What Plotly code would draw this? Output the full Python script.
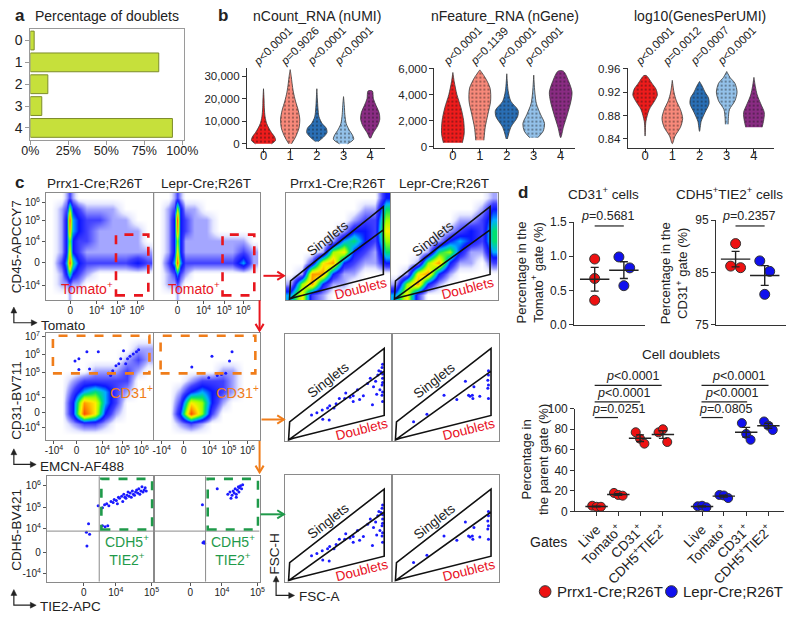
import math
import statistics
import plotly.graph_objects as go

W, H = 800, 622
FONT = "Liberation Sans, Arial, sans-serif"
INK = "#222222"

# ---------------- a: percentage of doublets per cluster ----------------
clusters = [0, 1, 2, 3, 4]
doublet_pct = [2.5, 84.5, 11.5, 7.5, 93.5]

# ---------------- b: violin outlines ----------------
# per cluster: value levels and half width (cluster units) at each level
ncount_lv = [
    [0, 1500, 3000, 5000, 7000, 9000, 12000, 16000, 20000, 24500],
    [0, 3000, 7000, 11000, 15000, 19000, 23000, 27000, 30000, 33000],
    [1000, 3000, 5000, 7000, 9000, 12000, 16000, 20000, 24500],
    [0, 2000, 4000, 6000, 9000, 13000, 17000, 21000],
    [2500, 5000, 8000, 11000, 14000, 17000, 20000, 23500],
]
ncount_hw = [
    [0.3, 0.45, 0.42, 0.3, 0.2, 0.12, 0.06, 0.03, 0.02, 0],
    [0.05, 0.2, 0.33, 0.36, 0.3, 0.2, 0.12, 0.07, 0.04, 0],
    [0.05, 0.25, 0.38, 0.35, 0.2, 0.08, 0.04, 0.02, 0],
    [0.15, 0.38, 0.33, 0.22, 0.1, 0.05, 0.03, 0],
    [0.02, 0.12, 0.28, 0.36, 0.33, 0.22, 0.12, 0.08],
]
nfeature_lv = [
    [300, 1000, 2000, 3000, 4000, 5000, 5700],
    [500, 1500, 2500, 3500, 4500, 5300, 5900],
    [600, 1500, 2300, 2800, 3500, 4300, 5600],
    [700, 1200, 1800, 2500, 3300, 4200, 5500],
    [700, 1500, 2500, 3500, 4200, 5000, 5800],
]
nfeature_hw = [
    [0.35, 0.42, 0.4, 0.3, 0.15, 0.05, 0],
    [0.15, 0.2, 0.3, 0.4, 0.38, 0.2, 0],
    [0.02, 0.15, 0.4, 0.42, 0.15, 0.05, 0],
    [0.15, 0.35, 0.4, 0.25, 0.1, 0.04, 0],
    [0, 0.1, 0.25, 0.38, 0.42, 0.3, 0.1],
]
gpu_lv = [
    [0.845, 0.87, 0.89, 0.905, 0.915, 0.925, 0.935, 0.948],
    [0.832, 0.845, 0.86, 0.875, 0.89, 0.905, 0.92, 0.94],
    [0.853, 0.87, 0.885, 0.9, 0.91, 0.92, 0.93, 0.938],
    [0.865, 0.875, 0.89, 0.905, 0.92, 0.935, 0.945, 0.955],
    [0.86, 0.87, 0.885, 0.9, 0.915, 0.93, 0.945],
]
gpu_hw = [
    [0, 0.03, 0.15, 0.35, 0.45, 0.4, 0.25, 0.05],
    [0, 0.1, 0.3, 0.38, 0.3, 0.15, 0.06, 0],
    [0, 0.06, 0.2, 0.35, 0.33, 0.2, 0.1, 0],
    [0.05, 0.06, 0.1, 0.3, 0.38, 0.3, 0.12, 0],
    [0.3, 0.35, 0.38, 0.25, 0.12, 0.05, 0],
]
ncount_p = ["p&lt;0.0001", "p=0.9026", "p&lt;0.0001", "p&lt;0.0001"]
nfeature_p = ["p&lt;0.0001", "p=0.1139", "p&lt;0.0001", "p&lt;0.0001"]
gpu_p = ["p&lt;0.0001", "p=0.0012", "p=0.0007", "p&lt;0.0001"]
cluster_colors = ["#ee1c1c", "#f7897a", "#2a6fb5", "#93c1e9", "#8a2c83"]

# ---------------- c: flow cytometry (axis units 0-100 on the display scale) ----------------
grid = [5, 15, 25, 35, 45, 55, 65, 75, 85, 95]
grid_cd45_x = [5, 14, 19, 22, 25, 30, 38, 50, 62, 74, 85, 94]
# density rows go from bottom to top
cd45_prrx1 = [
    [0, 0, 0, 1, 0, 0, 0, 0, 0, 0, 0, 0],
    [0, 1, 1, 2, 1, 1, 0, 0, 0, 0, 0, 0],
    [0, 1, 3, 5, 3, 2, 1, 0, 0, 0, 0, 0],
    [0, 2, 4, 9, 5, 3, 2, 2, 2, 2, 3, 2],
    [0, 1, 3, 7, 3, 2, 1, 1, 1, 1, 1, 1],
    [0, 1, 3, 6, 3, 2, 2, 1, 1, 1, 1, 0],
    [0, 1, 3, 8, 4, 3, 2, 1, 1, 1, 1, 0],
    [0, 1, 3, 9, 4, 3, 2, 2, 1, 1, 0, 0],
    [0, 1, 2, 6, 3, 2, 1, 1, 1, 0, 0, 0],
    [0, 0, 1, 2, 1, 0, 0, 0, 0, 0, 0, 0],
]
cd45_lepr = [
    [0, 0, 0, 1, 0, 0, 0, 0, 0, 0, 0, 0],
    [0, 1, 1, 2, 1, 0, 0, 0, 0, 0, 0, 0],
    [0, 1, 2, 4, 2, 1, 0, 0, 0, 0, 0, 0],
    [0, 2, 4, 9, 4, 2, 2, 2, 2, 2, 4, 1],
    [0, 1, 3, 7, 3, 1, 1, 1, 1, 1, 2, 1],
    [0, 1, 3, 6, 3, 1, 1, 1, 1, 1, 1, 0],
    [0, 1, 3, 8, 3, 2, 1, 1, 0, 0, 0, 0],
    [0, 1, 3, 9, 3, 2, 1, 1, 0, 0, 0, 0],
    [0, 1, 2, 6, 3, 1, 1, 0, 0, 0, 0, 0],
    [0, 0, 1, 2, 1, 0, 0, 0, 0, 0, 0, 0],
]
fsc_prrx1 = [
    [4, 7, 2, 1, 0, 0, 0, 0, 0, 0],
    [1, 6, 8, 3, 1, 1, 0, 0, 0, 0],
    [0, 1, 8, 8, 3, 1, 1, 0, 0, 0],
    [0, 0, 2, 7, 8, 3, 2, 1, 1, 3],
    [0, 0, 0, 1, 6, 7, 3, 2, 1, 5],
    [0, 0, 0, 0, 1, 4, 5, 3, 2, 6],
    [0, 0, 0, 0, 0, 1, 3, 3, 2, 7],
    [0, 0, 0, 0, 0, 0, 1, 2, 2, 6],
    [0, 0, 0, 0, 0, 0, 0, 1, 1, 5],
    [0, 0, 0, 0, 0, 0, 0, 0, 0, 3],
]
fsc_lepr = [
    [4, 7, 2, 0, 0, 0, 0, 0, 0, 0],
    [1, 6, 8, 3, 1, 0, 0, 0, 0, 0],
    [0, 1, 7, 8, 3, 1, 0, 0, 0, 0],
    [0, 0, 1, 6, 8, 3, 1, 1, 0, 2],
    [0, 0, 0, 1, 5, 6, 3, 1, 1, 4],
    [0, 0, 0, 0, 1, 3, 4, 3, 2, 5],
    [0, 0, 0, 0, 0, 1, 2, 3, 2, 5],
    [0, 0, 0, 0, 0, 0, 1, 1, 2, 4],
    [0, 0, 0, 0, 0, 0, 0, 0, 1, 3],
    [0, 0, 0, 0, 0, 0, 0, 0, 0, 1],
]
cd31_prrx1 = [
    [0, 0, 0, 0, 0, 0, 0, 0, 0, 0],
    [0, 0, 1, 2, 2, 1, 0, 0, 0, 0],
    [0, 0, 3, 9, 7, 3, 1, 0, 0, 0],
    [0, 0, 3, 8, 7, 4, 2, 0, 0, 0],
    [0, 0, 2, 4, 5, 4, 2, 1, 0, 0],
    [0, 0, 1, 2, 2, 2, 2, 2, 0, 0],
    [0, 0, 0, 0, 1, 1, 1, 2, 1, 0],
    [0, 0, 0, 0, 0, 0, 0, 1, 2, 1],
    [0, 0, 0, 0, 0, 0, 0, 0, 1, 1],
    [0, 0, 0, 0, 0, 0, 0, 0, 0, 0],
]
cd31_lepr = [
    [0, 0, 0, 0, 0, 0, 0, 0, 0, 0],
    [0, 0, 1, 2, 1, 0, 0, 0, 0, 0],
    [0, 0, 3, 9, 6, 2, 0, 0, 0, 0],
    [0, 0, 2, 7, 6, 3, 1, 0, 0, 0],
    [0, 0, 1, 3, 4, 3, 2, 1, 0, 0],
    [0, 0, 0, 1, 2, 2, 2, 1, 0, 0],
    [0, 0, 0, 0, 0, 0, 1, 1, 0, 0],
    [0, 0, 0, 0, 0, 0, 0, 0, 0, 0],
    [0, 0, 0, 0, 0, 0, 0, 0, 0, 0],
    [0, 0, 0, 0, 0, 0, 0, 0, 0, 0],
]
# sparse events
cd31_gate_prrx1_x = [27, 30.6, 38, 48.6, 30.6, 40.5, 62, 72, 69.4, 75.7, 78, 81, 65, 74, 67.6, 58, 60, 84, 86]
cd31_gate_prrx1_y = [73.6, 75.5, 82, 82, 65.5, 66, 64.5, 83, 75.5, 75.5, 78, 80, 69, 71, 71, 62, 60, 82, 84]
cd31_gate_lepr_x = [36, 55, 71.6, 74, 60, 64, 68, 52]
cd31_gate_lepr_y = [68, 78, 73.6, 82, 60, 61, 62, 58]
ec_prrx1_x = [48, 39, 40, 37, 37.5, 52, 54.5, 57, 52, 54, 56, 58, 60, 62, 63, 65, 66, 67, 68, 70, 71,
              72, 73, 74, 75, 76, 77, 78, 79, 80, 81, 82, 83, 84, 85, 86, 87, 88, 89, 90, 91, 92, 93]
ec_prrx1_y = [72, 55, 45, 47, 34, 53, 52, 53, 70, 73, 74, 72, 76, 75, 78, 77, 74, 80, 79, 81, 76,
              83, 80, 79, 82, 85, 81, 84, 80, 86, 83, 82, 85, 87, 84, 88, 83, 86, 90, 85, 87, 89, 86]
ec_lepr_x = [46, 46.5, 47.5, 48, 60, 70, 72, 74, 75, 76, 77, 78, 79, 80, 80.5, 81, 82, 83, 84, 78, 73]
ec_lepr_y = [73, 37, 38, 36.5, 88, 83, 85, 82, 86, 84, 88, 83, 87, 90, 85, 89, 91, 88, 92, 80, 79]
fsc_sparse_prrx1_x = [25, 30, 35, 40, 42, 48, 51, 57, 61, 64, 68, 70, 73.5, 77.5, 80, 83, 82, 85, 87, 89, 90,
                      91, 91, 91, 91.5, 91.5, 35.5, 41.5, 46, 56, 64, 91.5, 91.5, 91.5, 91.5, 88, 86]
fsc_sparse_prrx1_y = [24.5, 26.6, 29, 31, 33, 35, 40, 45, 41, 42.5, 48, 39, 42.5, 54, 59, 51, 34, 56, 62, 48, 65,
                      69, 43, 52.6, 59, 37, 20.5, 19.6, 31, 40, 37, 46, 55, 63, 72, 66, 44]
fsc_sparse_lepr_x = [20.5, 33, 49, 61, 69, 72, 73.4, 75.5, 77, 82.5, 90, 90, 90.6, 90.6, 90.6, 90.6, 76]
fsc_sparse_lepr_y = [18, 25, 43, 39, 56, 43, 41.9, 43, 51, 42, 49.5, 57, 62, 52.6, 66, 40, 40]

# ---------------- d: gate percentages (n = 3 mice) ----------------
cd31_prrx1_pct = [0.96, 0.675, 0.357]
cd31_lepr_pct = [0.99, 0.83, 0.57]
ec_prrx1_pct = [90.5, 86.2, 85.9]
ec_lepr_pct = [87.2, 85.2, 80.8]
gates = ["Live", "Tomato<sup>+</sup>", "CD31<sup>+</sup>", "CDH5<sup>+</sup>TIE2<sup>+</sup>"]
doublets_prrx1 = [[5.5, 4.5, 4.5], [18, 16, 15.3], [77.1, 70.8, 66], [77, 80, 67.6]]
doublets_lepr = [[5, 5.5, 4], [16, 15.5, 13], [86, 75.5, 69.8], [87.6, 83.5, 79.3]]
strains = ["Prrx1-Cre;R26T", "Lepr-Cre;R26T"]

RED, BLUE = "#ee1111", "#1010ee"
JET = [[0.0, "#ffffff"], [0.05, "#e6e8ff"], [0.1, "#a4a6ff"], [0.2, "#4040ff"], [0.3, "#0a14ff"],
       [0.4, "#00b0ff"], [0.5, "#00e070"], [0.6, "#a0ff00"], [0.7, "#ffee00"], [0.82, "#ff8a00"],
       [1.0, "#ff0000"]]

fig = go.Figure()
lay, shapes, annos = {}, [], []


def X(px):
    return px / W


def Y(py):
    return 1 - py / H


def make_axes(i, x0, x1, y0, y1, xa, ya):
    s = "" if i == 1 else str(i)
    base = dict(showgrid=False, zeroline=False, fixedrange=True)
    lay["xaxis" + s] = dict(base, domain=[X(x0), X(x1)], anchor="y" + s, **xa)
    lay["yaxis" + s] = dict(base, domain=[Y(y1), Y(y0)], anchor="x" + s, **ya)
    return "x" + s, "y" + s


def text(px, py, s, size=13, color=INK, angle=0, xanchor="center", yanchor="middle"):
    annos.append(dict(x=X(px), y=Y(py), xref="paper", yref="paper", text=s, showarrow=False,
                      font=dict(family=FONT, size=size, color=color), textangle=angle,
                      xanchor=xanchor, yanchor=yanchor))


def pline(points, color, width=1.2):
    path = "M" + " L".join(f"{X(a):.5f},{Y(b):.5f}" for a, b in points)
    shapes.append(dict(type="path", xref="paper", yref="paper", path=path,
                       line=dict(color=color, width=width)))


def arrow(x0, y0, x1, y1, color):
    ang = math.atan2(y1 - y0, x1 - x0)
    h1 = (x1 - 8 * math.cos(ang - 0.55), y1 - 8 * math.sin(ang - 0.55))
    h2 = (x1 - 8 * math.cos(ang + 0.55), y1 - 8 * math.sin(ang + 0.55))
    pline([(x0, y0), (x1, y1)], color, 2)
    pline([h1, (x1, y1), h2], color, 2)


def l_axis(cx, cy, top, right):
    pline([(cx, top + 4), (cx, cy), (right - 4, cy)], INK, 1.2)
    for tri in ([(cx - 3, top + 6), (cx, top), (cx + 3, top + 6)],
                [(right - 6, cy - 3), (right, cy), (right - 6, cy + 3)]):
        path = "M" + " L".join(f"{X(a):.5f},{Y(b):.5f}" for a, b in tri) + " Z"
        shapes.append(dict(type="path", xref="paper", yref="paper", path=path,
                           fillcolor=INK, line=dict(color=INK, width=0.5)))


# ================= a =================
frame_a = dict(showline=True, mirror=True, linecolor="#9a9a9a", ticks="outside", ticklen=4, tickcolor="#9a9a9a")
xa, ya = make_axes(1, 22, 180, 22, 136,
                   dict(frame_a, range=[0, 101], tickvals=[0, 25, 50, 75, 100], ticklabelstandoff=-5,
                        ticktext=["0%", "25%", "50%", "75%", "100%"], tickfont=dict(size=12.5)),
                   dict(frame_a, range=[4.55, -0.55], tickvals=clusters, tickfont=dict(size=14)))
fig.add_trace(go.Bar(x=doublet_pct, y=clusters, orientation="h", width=0.86,
                     marker=dict(color="#c6e03b", line=dict(color="#7d8c2a", width=1)),
                     xaxis=xa, yaxis=ya, showlegend=False, hoverinfo="skip"))
text(4, 9, "<b>a</b>", 17, xanchor="left")
text(101, 9, "Percentage of doublets", 14)

# ================= b =================
text(213, 9, "<b>b</b>", 17, xanchor="left")
vio = [
    (2, 245, 387, [-0.62, 4.55], [-1740, 33900], [0, 10000, 20000, 30000], ",", ncount_lv, ncount_hw, ncount_p,
     "nCount_RNA (nUMI)", 317),
    (3, 438, 583, [-0.685, 4.54], [-75, 6075], [0, 2000, 4000, 6000], ",", nfeature_lv, nfeature_hw, nfeature_p,
     "nFeature_RNA (nGene)", 511),
    (4, 637, 788, [-0.64, 4.75], [0.825, 0.9617], [0.84, 0.88, 0.92, 0.96], ".2f", gpu_lv, gpu_hw, gpu_p,
     "log10(GenesPerUMI)", 711),
]
ax_b = dict(showline=True, linecolor="#333", linewidth=1, ticks="outside", ticklen=4, tickcolor="#333")
for i, x0, x1, xr, yr, yt, fmt, lv, hw, pv, title, tcx in vio:
    xa, ya = make_axes(i, x0, x1, 62, 144,
                       dict(ax_b, range=xr, tickvals=clusters, tickfont=dict(size=13), ticklabelstandoff=-8),
                       dict(ax_b, range=yr, tickvals=yt, tickformat=fmt, tickfont=dict(size=11.5)))
    for k in clusters:
        ys, ws = lv[k], hw[k]
        xs = [k + w for w in ws] + [k - w for w in reversed(ws)]
        fig.add_trace(go.Scatter(
            x=xs, y=ys + ys[::-1], mode="lines", fill="toself",
            line=dict(color="#3a3a3a", width=0.8, shape="spline", smoothing=0.8),
            fillcolor=cluster_colors[k],
            fillpattern=dict(shape=".", fgcolor="#111111", bgcolor=cluster_colors[k], size=4, solidity=0.2),
            xaxis=xa, yaxis=ya, showlegend=False, hoverinfo="skip"))
    for k, p in enumerate(pv):
        annos.append(dict(x=k, y=Y(40), xref=xa, yref="paper", xshift=9.5, text=p.replace("p", "<i>p</i>", 1),
                          showarrow=False, textangle=-45, xanchor="center", yanchor="middle",
                          font=dict(family=FONT, size=11.5, color=INK)))
    text(tcx, 9, title, 14)

# ================= c =================
text(4, 180, "<b>c</b>", 17, xanchor="left")
frame_c = dict(showline=True, mirror=True, linecolor="#8a8a8a", linewidth=1, range=[0, 100])
tick_c = dict(ticks="outside", ticklen=3, tickcolor="#555", tickfont=dict(size=10))
sup = lambda e: f"10<sup>{e}</sup>"
no_ticks = dict(showticklabels=False, ticks="")


def flow_axes(i, x0, x1, y0, y1, xt=None, yt=None):
    xa = dict(frame_c, **(dict(tick_c, tickvals=xt[0], ticktext=xt[1], ticklabelstandoff=-2) if xt else no_ticks))
    ya = dict(frame_c, **(dict(tick_c, tickvals=yt[0], ticktext=yt[1]) if yt else no_ticks))
    return make_axes(i, x0, x1, y0, y1, xa, ya)


def density(z, ax, xs=grid):
    fig.add_trace(go.Heatmap(z=z, x=xs, y=grid, zmin=0, zmax=10, zsmooth="best", colorscale=JET,
                             showscale=False, hoverinfo="skip", xaxis=ax[0], yaxis=ax[1]))


def dots(xs, ys, ax, size=3):
    fig.add_trace(go.Scatter(x=xs, y=ys, mode="markers", marker=dict(size=size, color="#1a1aff"),
                             xaxis=ax[0], yaxis=ax[1], showlegend=False, hoverinfo="skip"))


def gate_rect(ax, x0, x1, y0, y1, color):
    shapes.append(dict(type="rect", xref=ax[0], yref=ax[1], x0=x0, x1=x1, y0=y0, y1=y1,
                       line=dict(color=color, width=2.6, dash="dash")))


def label(ax, x, y, s, color, size=13.5, angle=0):
    annos.append(dict(x=x, y=y, xref=ax[0], yref=ax[1], text=s, showarrow=False, textangle=angle,
                      font=dict(family=FONT, size=size, color=color)))


def singlet_gate(ax):
    shapes.append(dict(type="path", xref=ax[0], yref=ax[1],
                       path="M3.5,1 L4.5,18 L93,87 L93,24 L8,2.5 Z M3.5,1 L93,65.5",
                       line=dict(color="#111", width=1.6)))
    label(ax, 40, 57, "Singlets", "#222", 13.5, -38)
    label(ax, 72, 11, "Doublets", "#e8101e", 13.5, -14)


for cx in (88, 338):
    text(cx, 181, strains[0], 13.5)
for cx in (203, 448):
    text(cx, 181, strains[1], 13.5)

# row 1
t1x = ([22.5, 47, 66.5, 84.5], ["0", sup(4), sup(5), sup(6)])
t1y = ([14, 35, 55, 74, 91], ["-" + sup(4), "0", sup(4), sup(5), sup(6)])
a5 = flow_axes(5, 38, 149, 190, 300, t1x, t1y)
a6 = flow_axes(6, 149, 258, 190, 300, t1x)
density(cd45_prrx1, a5, grid_cd45_x)
density(cd45_lepr, a6, grid_cd45_x)
for ax in (a5, a6):
    gate_rect(ax, 65, 95, 4.5, 61, "#e8161e")
    label(ax, 38, 11, "Tomato<sup>+</sup>", "#e8161e", 14)
a7 = flow_axes(7, 285, 393, 190, 300)
a8 = flow_axes(8, 393, 503, 190, 300)
density(fsc_prrx1, a7)
density(fsc_lepr, a8)

# row 2
t2x = ([7.5, 28.5, 52.5, 71, 88.5], ["-" + sup(4), "0", sup(4), sup(5), sup(6)])
t2y = ([12, 25.5, 40, 63, 80, 96], ["-" + sup(4), "0", sup(4), sup(5), sup(6), sup(7)])
a9 = flow_axes(9, 38, 149, 333, 443, t2x, t2y)
a10 = flow_axes(10, 149, 258, 333, 443, t2x)
density(cd31_prrx1, a9)
density(cd31_lepr, a10)
dots(cd31_gate_prrx1_x, cd31_gate_prrx1_y, a9)
dots(cd31_gate_lepr_x, cd31_gate_lepr_y, a10)
for ax in (a9, a10):
    gate_rect(ax, 6.5, 96, 62, 97, "#f07d1a")
    label(ax, 79, 45, "CD31<sup>+</sup>", "#f07d1a", 14.5)
a11 = flow_axes(11, 284, 394, 335, 444)
a12 = flow_axes(12, 394, 504, 335, 444)

# row 3
t3x = ([34.5, 64.5, 98], ["0", sup(4), sup(5)])
t3y = ([8, 28, 50, 70, 91], ["-" + sup(4), "0", sup(4), sup(5), sup(6)])
a13 = flow_axes(13, 39, 149, 480, 588, t3x, t3y)
a14 = flow_axes(14, 149, 258, 480, 588, t3x)
dots(ec_prrx1_x, ec_prrx1_y, a13)
dots(ec_lepr_x, ec_lepr_y, a14)
for ax in (a13, a14):
    shapes.append(dict(type="line", xref=ax[0], yref=ax[1], x0=49, x1=49, y0=0, y1=100,
                       line=dict(color="#8a8a8a", width=1)))
    shapes.append(dict(type="line", xref=ax[0], yref=ax[1], x0=0, x1=100, y0=48, y1=48,
                       line=dict(color="#8a8a8a", width=1)))
    gate_rect(ax, 51, 98.5, 49.5, 97.5, "#1f9a4a")
    label(ax, 75, 30, "CDH5<sup>+</sup><br>TIE2<sup>+</sup>", "#1f9a4a", 14)
a15 = flow_axes(15, 284, 394, 479, 588)
a16 = flow_axes(16, 394, 504, 479, 588)
for ax in (a11, a15):
    dots(fsc_sparse_prrx1_x, fsc_sparse_prrx1_y, ax)
for ax in (a12, a16):
    dots(fsc_sparse_lepr_x, fsc_sparse_lepr_y, ax)
for ax in (a7, a8, a11, a12, a15, a16):
    singlet_gate(ax)

# axis titles and arrows of panel c
text(8, 245, "CD45-APCCY7", 13.5, angle=-90)
text(31, 326, "Tomato", 13.5, xanchor="left")
text(8, 402, "CD31-BV711", 13.5, angle=-90)
text(30, 470, "EMCN-AF488", 13.5, xanchor="left")
text(8, 535, "CDH5-BV421", 13.5, angle=-90)
text(30, 613, "TIE2-APC", 13.5, xanchor="left")
text(273, 560, "FSC-H", 13.5, angle=-90)
text(297, 603, "FSC-A", 13.5, xanchor="left")
l_axis(5, 323, 307, 29)
l_axis(5, 468, 452, 28)
l_axis(5, 612, 596, 28)
l_axis(275, 602, 582, 294)
arrow(262, 275, 283, 275, "#e8161e")
arrow(258, 300, 258, 331, "#e8161e")
arrow(260, 422, 283, 422, "#f07d1a")
arrow(258, 444, 258, 476, "#f07d1a")
arrow(259, 519, 283, 519, "#1f9a4a")

# ================= d =================
text(522, 190, "<b>d</b>", 17, xanchor="left")
ax_d = dict(showline=True, linecolor="#333", linewidth=1.2, ticks="outside", ticklen=4, tickcolor="#333",
            tickfont=dict(size=12))
flat_x = dict(showline=True, linecolor="#333", linewidth=1.2, showticklabels=False, ticks="")


def mean_sem(v):
    return sum(v) / len(v), statistics.stdev(v) / math.sqrt(len(v))


def group(ax, pos, vals, color, offs, size=10, bar=21):
    fig.add_trace(go.Scatter(x=[pos + o for o in offs], y=vals, mode="markers",
                             showlegend=False, hoverinfo="skip",
                             marker=dict(size=size, color=color, line=dict(color="#333", width=1)),
                             xaxis=ax[0], yaxis=ax[1]))
    m, s = mean_sem(vals)
    fig.add_trace(go.Scatter(x=[pos], y=[m], mode="markers", showlegend=False, hoverinfo="skip",
                             marker=dict(symbol="line-ew", size=bar, line=dict(color="#222", width=1.4)),
                             error_y=dict(type="data", array=[s], color="#222", thickness=1.4, width=4),
                             xaxis=ax[0], yaxis=ax[1]))


a17 = make_axes(17, 582, 655, 220, 325, dict(flat_x, range=[-0.7, 1.73]),
                dict(ax_d, range=[0, 1.5], tickvals=[0, 0.5, 1, 1.5], tickformat=".1f"))
group(a17, 0, cd31_prrx1_pct, RED, [0, 0, 0])
group(a17, 1, cd31_lepr_pct, BLUE, [-0.17, 0.2, 0.0])
a18 = make_axes(18, 728, 800, 218, 325, dict(flat_x, range=[-0.67, 1.73]),
                dict(ax_d, range=[75, 95], tickvals=[75, 85, 95]))
group(a18, 0, ec_prrx1_pct, RED, [0, -0.17, 0.17])
group(a18, 1, ec_lepr_pct, BLUE, [-0.17, 0.17, 0])

gate_pos = [0, 1, 2, 3.05, 4.85, 5.85, 6.88, 7.9]
a19 = make_axes(19, 583, 798, 411, 516,
                dict(ax_d, range=[-0.98, 8.62], tickvals=gate_pos, ticktext=gates * 2, tickangle=-45,
                     tickfont=dict(size=13.5)),
                dict(ax_d, range=[0, 100], tickvals=[0, 20, 40, 60, 80, 100]))
for j in range(4):
    group(a19, gate_pos[j], doublets_prrx1[j], RED, [-0.2, 0.0, 0.2], size=9, bar=16)
    group(a19, gate_pos[j + 4], doublets_lepr[j], BLUE, [-0.2, 0.0, 0.2], size=9, bar=16)

text(612, 190, "CD31<sup>+</sup> cells", 13.5)
text(742, 190, "CDH5<sup>+</sup>TIE2<sup>+</sup> cells", 13.5)
text(692, 355, "Cell doublets", 13.5)
text(536, 272, "Percentage in the<br>Tomato<sup>+</sup> gate (%)", 13, angle=-90)
text(685, 272, "Percentage in the<br>CD31<sup>+</sup> gate (%)", 13, angle=-90)
text(541, 463, "Percentage in<br>the parent gate (%)", 13, angle=-90)
text(555, 547, "Gates", 14)

brackets = [
    (603, 633, 224, 617, 214, "=0.5681"), (748, 778, 224, 762, 214, "=0.2357"),
    (603, 672, 387, 642, 378, "&lt;0.0001"), (603, 650, 404, 633, 395, "&lt;0.0001"),
    (603, 627, 420, 628, 411, "=0.0251"),
    (713, 782, 387, 752, 378, "&lt;0.0001"), (713, 760, 404, 744, 395, "&lt;0.0001"),
    (713, 735, 420, 738, 411, "=0.0805"),
]
for x0, x1, ly, tx, ty, s in brackets:
    pline([(x0, ly), (x1, ly)], "#222", 1.2)
    text(tx, ty, "<i>p</i>" + s, 12.5)

# legend keys drawn as circles with labels
for (cx, tx), name, col in zip([(552, 562), (682, 692)], strains, [RED, BLUE]):
    shapes.append(dict(type="circle", xref="paper", yref="paper", x0=X(cx - 6), x1=X(cx + 6),
                       y0=Y(604), y1=Y(592), fillcolor=col, line=dict(color="#333", width=1)))
    text(tx, 598, name, 15, xanchor="left")

lay.update(shapes=shapes, annotations=annos)
fig.update_layout(
    width=W, height=H, margin=dict(l=0, r=0, t=0, b=0), autosize=False,
    paper_bgcolor="white", plot_bgcolor="white", showlegend=False,
    font=dict(family=FONT, size=12, color=INK),
    **lay,
)

fig.write_html("out.html", config={"displayModeBar": False},
               post_script="document.body.style.margin='0';")
